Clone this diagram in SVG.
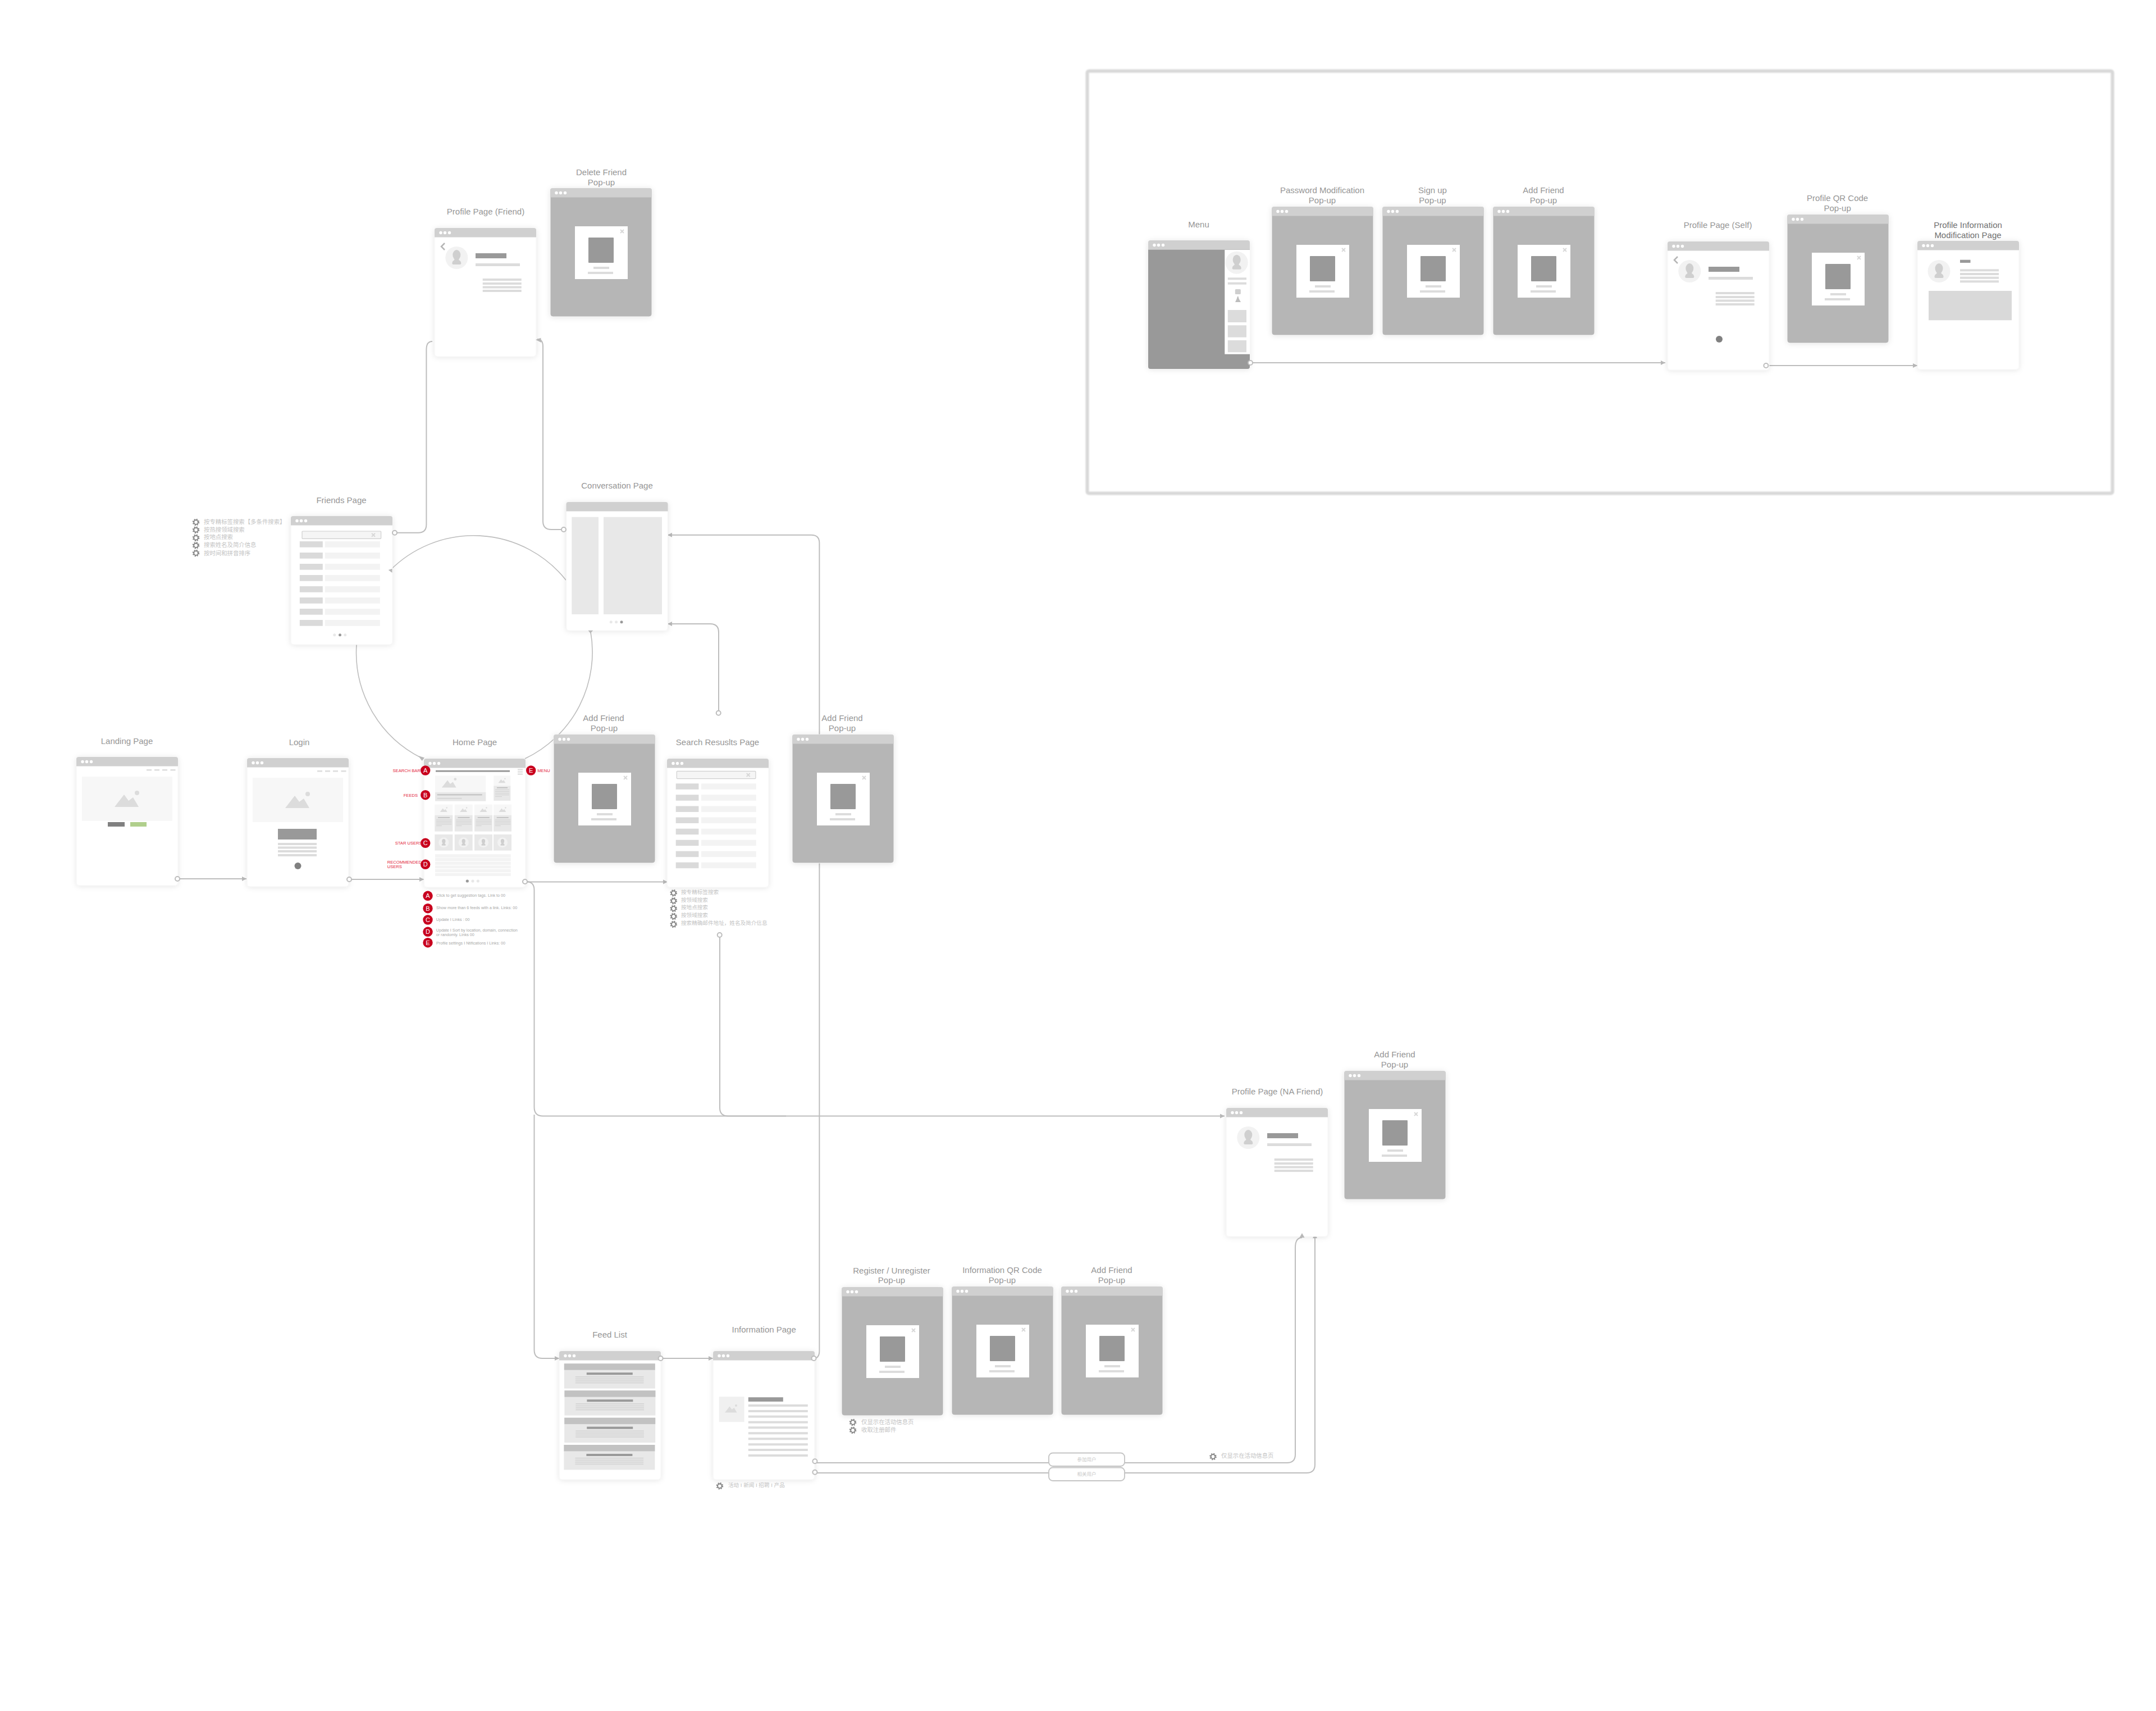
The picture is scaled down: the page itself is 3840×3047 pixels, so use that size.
<svg xmlns="http://www.w3.org/2000/svg" width="3840" height="3047" viewBox="0 0 3840 3047">
<style>
text{font-family:"Liberation Sans","Noto Sans CJK SC",sans-serif}
.t{font-size:15px;fill:#969696;text-anchor:middle}
.td{font-size:15px;fill:#707070;text-anchor:middle}
.n{font-size:10.4px;fill:#c4c4c4}
.en{font-size:7.2px;fill:#a8a8a8}
.rl{font-size:7.6px;fill:#e2233a}
.bl{font-size:11px;fill:#fff;text-anchor:middle}
.pl{font-size:8.5px;fill:#c8c8c8;text-anchor:middle}
.con{fill:none;stroke:#bdbdbd;stroke-width:2}
.arc{fill:none;stroke:#bdbdbd;stroke-width:1.6}
.tip{fill:#b8b8b8}
.term{fill:#fff;stroke:#bdbdbd;stroke-width:2}
.b{fill:#c8001e}
.l{fill:#dcdcdc}
.m{fill:#999}
.s{fill:#f3f3f3}
.e{fill:#e8e8e8}
.dk{fill:#808080}
.x{fill:none;stroke:#d8d8d8;stroke-width:2}
</style>
<defs>
<filter id="sh" x="-15%" y="-15%" width="130%" height="130%"><feDropShadow dx="0" dy="1" stdDeviation="5" flood-color="#000" flood-opacity=".1"/></filter>
<filter id="soft" x="-2%" y="-2%" width="104%" height="104%"><feGaussianBlur stdDeviation="1.200"/></filter>
<marker id="ah" markerUnits="userSpaceOnUse" markerWidth="10" markerHeight="10" refX="8" refY="4.5" orient="auto"><path d="M0 .5L8 4.5L0 8.5Z" fill="#b8b8b8"/></marker>
<g id="dots"><circle cx="11" cy="8.5" r="2.7" fill="#fff"/><circle cx="18.5" cy="8.5" r="2.7" fill="#fff"/><circle cx="26.5" cy="8.5" r="2.7" fill="#fff"/></g>
<path id="hd" d="M0 16.500V4Q0 0 4 0H177Q181 0 181 4V16.500Z" fill="#d0d0d0"/>
<g id="win"><rect width="181" height="229" rx="5" fill="#fff" stroke="#f4f4f4" filter="url(#sh)"/><use href="#hd"/><use href="#dots"/></g>
<g id="blank"><rect width="181" height="229" rx="5" fill="#fff" stroke="#f4f4f4" filter="url(#sh)"/><use href="#hd"/></g>
<g id="pop"><rect width="181" height="229" rx="5" fill="#b6b6b6" stroke="#f4f4f4" filter="url(#sh)"/><use href="#hd"/><use href="#dots"/><rect x="44" y="68" width="94" height="94" fill="#fff"/><rect x="68" y="88" width="45" height="45" rx="1" fill="#999"/><rect x="77" y="140" width="28" height="4" class="l"/><rect x="67" y="149" width="45" height="4" class="l"/><path class="x" transform="translate(128 77)" d="M-3-3L3 3M3-3L-3 3"/></g>
<g id="mtn"><path d="M-22 11L-5-11L3 0L11-6L21 11Z" fill="#dcdcdc"/><circle cx="18" cy="-14" r="4" fill="#dcdcdc"/></g>
<g id="avt"><circle r="20" fill="#f2f2f2"/><ellipse cy="-5" rx="7" ry="9" fill="#cfcfcf"/><path d="M-4 0V4Q-8 6-8 10Q-8 12-5 12H5Q8 12 8 10Q8 6 4 4V0Z" fill="#cfcfcf"/></g>
<g id="prof"><use href="#avt" x="39.300" y="53"/><rect x="73" y="45" width="55" height="9" class="m"/><rect x="73" y="63" width="79" height="5" class="l"/><rect x="85.700" y="90" width="69" height="4" class="l"/><rect x="85.700" y="97" width="69" height="4" class="l"/><rect x="85.700" y="103.500" width="69" height="4" class="l"/><rect x="85.700" y="110" width="69" height="4" class="l"/></g>
<path id="back" d="M18 27L12 33L18 39" fill="none" stroke="#b5b5b5" stroke-width="2.500"/>
<g id="nav"><rect x="125" y="22" width="9" height="2.500" class="l"/><rect x="139" y="22" width="9" height="2.500" class="l"/><rect x="153" y="22" width="9" height="2.500" class="l"/><rect x="167.500" y="22" width="9" height="2.500" class="l"/><rect x="10" y="35" width="161" height="79" fill="#f7f7f7"/><use href="#mtn" x="90" y="78"/></g>
<g id="gear"><circle r="5.200" fill="none" stroke="#858585" stroke-width="2.200" stroke-dasharray="2.100 2"/><circle r="3.800" fill="#fff" stroke="#858585" stroke-width="1.800"/></g>
<g id="rf"><rect width="41" height="10.700" fill="#dadada"/><rect x="45" width="98" height="10.700" class="s"/></g>
<g id="rs"><rect width="40.700" height="10.500" fill="#dadada"/><rect x="45.300" width="97.700" height="10.500" class="s"/></g>
<g id="hc"><rect width="32" height="19" fill="#f7f7f7"/><rect y="19" width="32" height="29" class="e"/><use href="#mtn" transform="translate(16 10) scale(.3)"/><rect x="5.700" y="22.500" width="21" height="1.600" fill="#bbb"/><rect x="2.700" y="26.700" width="27.500" height="1.100" fill="#d2d2d2"/><rect x="2.700" y="29.300" width="27.500" height="1.100" fill="#d2d2d2"/><rect x="2.700" y="32" width="27.500" height="1.100" fill="#d2d2d2"/><rect x="2.700" y="34.700" width="27.500" height="1.100" fill="#d2d2d2"/><rect x="2.700" y="37.300" width="10" height="1.100" fill="#d2d2d2"/></g>
<g id="star"><rect width="32" height="28.700" class="e"/><use href="#avt" transform="translate(16 14.300) scale(.45)"/></g>
<g id="fc"><rect width="162" height="44.400" class="e"/><rect width="162" height="11.400" fill="#c2c2c2"/><rect x="40" y="16" width="82" height="4" class="m"/><rect x="20" y="22.700" width="121.700" height="2" fill="#d6d6d6"/><rect x="20" y="26.300" width="121.700" height="2" fill="#d6d6d6"/><rect x="20" y="29.800" width="121.700" height="2" fill="#d6d6d6"/><rect x="20" y="33.300" width="121.700" height="2" fill="#d6d6d6"/></g>
</defs>
<rect width="3840" height="3047" fill="#fff"/>

<g id="frame"><rect x="1936.500" y="126.500" width="1826" height="752" rx="3" fill="none" stroke="#d8d8d8" stroke-width="6" filter="url(#soft)"/></g>

<g id="connectors">
<path class="con" marker-end="url(#ah)" d="M316 1565H439"/>
<path class="con" marker-end="url(#ah)" d="M622 1566H755"/>
<path class="con" marker-end="url(#ah)" d="M935 1570.500H1189"/>
<path class="con" marker-end="url(#ah)" d="M935 1570H937Q951.500 1570 951.500 1585V1972Q951.500 1987.500 967 1987.500H2181"/>
<path class="con" marker-end="url(#ah)" d="M951.500 1985V2404Q951.500 2419 966 2419H996"/>
<path class="con" d="M1282 1665V1973Q1282 1987.500 1297 1987.500H1400"/>
<path class="con" marker-end="url(#ah)" d="M1280 1270V1126Q1280 1111 1265 1111H1189"/>
<path class="con" marker-end="url(#ah)" d="M1449.500 2419Q1459.400 2419 1459.400 2405V967Q1459.400 952.700 1445 952.700H1189"/>
<path class="con" d="M703 948.700H745Q759.400 948.700 759.400 934V622Q759.400 608 770 608"/>
<path class="con" d="M1004 943H982Q967 943 967 928V617Q967 604 957 604"/>
<path class="con" marker-end="url(#ah)" d="M2227 646H2966"/>
<path class="con" marker-end="url(#ah)" d="M3145 651H3415"/>
<path class="con" marker-end="url(#ah)" d="M1176.600 2419H1270"/>
<path class="con" d="M1451.400 2605H2292Q2307 2605 2307 2590V2222Q2307 2204 2319 2204"/>
<path class="con" marker-end="url(#ah)" d="M1451.400 2623H2327Q2342 2623 2342 2608V2197"/>
<path class="arc" d="M635 1148A210 210 0 0 0 751 1350"/>
<path class="arc" d="M935 1351A210 210 0 0 0 1051.600 1123"/>
<path class="arc" d="M1008 1033A210 210 0 0 0 694.500 1016"/>
</g>

<g id="landing"><text class="t" x="226" y="1325">Landing Page</text><g transform="translate(136 1348)"><use href="#win"/><use href="#nav"/><rect x="56" y="116" width="30" height="8" class="dk"/><rect x="96" y="116" width="29" height="8" fill="#b0cf8c"/></g></g>

<g id="login"><text class="t" x="533" y="1327">Login</text><g transform="translate(440 1350)"><use href="#win"/><use href="#nav"/><rect x="55" y="126" width="69" height="19" class="m"/><rect x="55" y="151" width="69" height="4" class="l"/><rect x="55" y="157.500" width="69" height="4" class="l"/><rect x="55" y="164" width="69" height="4" class="l"/><rect x="55" y="171" width="69" height="4" class="l"/><circle cx="90.500" cy="192" r="6" class="dk"/></g></g>

<g id="home"><text class="t" x="845.600" y="1327">Home Page</text><use href="#win" x="755" y="1351"/>
<rect x="776" y="1371.700" width="132" height="3" class="m"/>
<rect x="922" y="1369.500" width="9" height="2.200" class="l"/><rect x="922" y="1373.500" width="9" height="2.200" class="l"/><rect x="922" y="1377.500" width="9" height="2.200" class="l"/>
<rect x="775" y="1381.300" width="90.300" height="29.400" fill="#f7f7f7"/><rect x="775" y="1410.700" width="90.300" height="16" class="e"/><use href="#mtn" transform="translate(800 1396) scale(.6)"/><rect x="778.700" y="1414" width="80" height="2.600" fill="#c8c8c8"/><rect x="778.700" y="1420.700" width="43.700" height="2.300" fill="#d8d8d8"/>
<rect x="879.300" y="1381.300" width="30" height="18" fill="#f7f7f7"/><rect x="879.300" y="1399.300" width="30" height="26.700" class="e"/><use href="#mtn" transform="translate(894 1391) scale(.3)"/><rect x="885" y="1402" width="19" height="1.600" fill="#bbb"/><rect x="882" y="1406" width="25" height="1.100" fill="#d2d2d2"/><rect x="882" y="1409" width="25" height="1.100" fill="#d2d2d2"/><rect x="882" y="1412" width="25" height="1.100" fill="#d2d2d2"/><rect x="882" y="1415" width="25" height="1.100" fill="#d2d2d2"/><rect x="882" y="1418" width="12" height="1.100" fill="#d2d2d2"/>
<use href="#hc" x="774.300" y="1432.700"/><use href="#hc" x="809.700" y="1432.700"/><use href="#hc" x="845" y="1432.700"/><use href="#hc" x="879" y="1432.700"/>
<use href="#star" x="774.300" y="1486"/><use href="#star" x="809.700" y="1486"/><use href="#star" x="845" y="1486"/><use href="#star" x="879" y="1486"/>
<rect x="775" y="1521.300" width="134.700" height="6" class="s"/><rect x="775" y="1528" width="134.700" height="5.500" class="s"/><rect x="775" y="1534.700" width="134.700" height="5.300" class="s"/><rect x="775" y="1541.300" width="134.700" height="5.300" class="s"/><rect x="775" y="1548" width="134.700" height="5.300" class="s"/><rect x="775" y="1554.700" width="134.700" height="5.300" class="s"/>
<circle cx="832.300" cy="1569" r="2.600" class="m"/><circle cx="842" cy="1569" r="2.600" class="e"/><circle cx="851.300" cy="1569" r="2.600" class="e"/>
<circle class="b" cx="757.700" cy="1372" r="8.700"/><text class="bl" x="757.700" y="1376">A</text>
<circle class="b" cx="757.700" cy="1415.700" r="8.700"/><text class="bl" x="757.700" y="1419.700">B</text>
<circle class="b" cx="757.700" cy="1501.300" r="8.700"/><text class="bl" x="757.700" y="1505.300">C</text>
<circle class="b" cx="757.700" cy="1539.300" r="8.700"/><text class="bl" x="757.700" y="1543.300">D</text>
<circle class="b" cx="945.700" cy="1372" r="8.700"/><text class="bl" x="945.700" y="1376">E</text>
<text class="rl" x="699.500" y="1375">SEARCH BAR</text><text class="rl" x="718.700" y="1418.500">FEEDS</text><text class="rl" x="703.700" y="1503.700">STAR USERS</text><text class="rl" x="689.700" y="1538">RECOMMENDED</text><text class="rl" x="689.700" y="1545.700">USERS</text><text class="rl" x="957.300" y="1375">MENU</text>
<circle class="b" cx="762" cy="1595.300" r="8.700"/><text class="bl" x="762" y="1599.300">A</text>
<circle class="b" cx="762" cy="1617.700" r="8.700"/><text class="bl" x="762" y="1621.700">B</text>
<circle class="b" cx="762" cy="1638" r="8.700"/><text class="bl" x="762" y="1642">C</text>
<circle class="b" cx="762" cy="1659.300" r="8.700"/><text class="bl" x="762" y="1663.300">D</text>
<circle class="b" cx="762" cy="1678.700" r="8.700"/><text class="bl" x="762" y="1682.700">E</text>
<text class="en" x="777" y="1597">Click to get suggestion tags. Link to 00</text>
<text class="en" x="777" y="1618.700">Show more than 6 feeds with a link. Links: 00</text>
<text class="en" x="776.700" y="1639.500">Update I Links : 00</text>
<text class="en" x="776.700" y="1658.500">Update I Sort by location, domain, connection</text>
<text class="en" x="776.700" y="1667">or randomly. Links 00</text>
<text class="en" x="777" y="1681.700">Profile settings I Ntifications I Links: 00</text>
</g>

<g id="friends"><text class="t" x="608" y="896">Friends Page</text><use href="#win" x="518" y="919"/>
<rect x="538" y="946" width="140.600" height="13.300" rx="1" fill="#f5f5f5" stroke="#cfcfcf" stroke-width="1.200"/><path class="x" transform="translate(665 952.700)" d="M-3-3L3 3M3-3L-3 3"/>
<use href="#rf" x="533.800" y="964"/><use href="#rf" x="533.800" y="984"/><use href="#rf" x="533.800" y="1004"/><use href="#rf" x="533.800" y="1024"/><use href="#rf" x="533.800" y="1044"/><use href="#rf" x="533.800" y="1064"/><use href="#rf" x="533.800" y="1084"/><use href="#rf" x="533.800" y="1104"/>
<circle cx="595.800" cy="1130.700" r="2.500" class="e"/><circle cx="605.500" cy="1130.700" r="2.500" class="m"/><circle cx="614.700" cy="1130.700" r="2.500" class="e"/>
<use href="#gear" x="349" y="930"/><use href="#gear" x="349" y="943.700"/><use href="#gear" x="349" y="957.700"/><use href="#gear" x="349" y="971.300"/><use href="#gear" x="349" y="985"/>
<text class="n" x="363" y="933">按专精标签搜索【多条件搜索】</text><text class="n" x="363" y="946.700">按热搜领域搜索</text><text class="n" x="363" y="960.300">按地点搜索</text><text class="n" x="363" y="974">搜索姓名及简介信息</text><text class="n" x="363" y="988.700">按时间和拼音排序</text>
</g>

<g id="conversation"><text class="t" x="1099" y="870">Conversation Page</text><use href="#blank" x="1008.500" y="894"/>
<rect x="1018.300" y="920.700" width="47.700" height="173.300" class="e"/><rect x="1075" y="920.700" width="104" height="173.300" class="e"/>
<circle cx="1088.300" cy="1107.700" r="2.500" class="e"/><circle cx="1097.600" cy="1107.700" r="2.500" class="e"/><circle cx="1107" cy="1107.700" r="2.500" class="m"/>
</g>

<g id="profile-friend"><text class="t" x="865" y="382">Profile Page (Friend)</text><g transform="translate(774 406)"><use href="#win"/><use href="#prof"/><use href="#back"/></g></g>
<g id="delete-friend"><text class="t" x="1071" y="312">Delete Friend</text><text class="t" x="1071" y="329.500">Pop-up</text><use href="#pop" x="980" y="335"/></g>
<g id="add-friend-1"><text class="t" x="1075" y="1284">Add Friend</text><text class="t" x="1076" y="1302">Pop-up</text><use href="#pop" x="986" y="1308"/></g>

<g id="search-results"><text class="t" x="1278" y="1327">Search Resuslts Page</text><use href="#win" x="1188" y="1351"/>
<rect x="1205.300" y="1373.300" width="140.600" height="13.300" rx="1" fill="#f5f5f5" stroke="#cfcfcf" stroke-width="1.200"/><path class="x" transform="translate(1332.700 1380)" d="M-3-3L3 3M3-3L-3 3"/>
<use href="#rs" x="1203.700" y="1395.300"/><use href="#rs" x="1203.700" y="1415.300"/><use href="#rs" x="1203.700" y="1435.500"/><use href="#rs" x="1203.700" y="1455.500"/><use href="#rs" x="1203.700" y="1475.700"/><use href="#rs" x="1203.700" y="1495.700"/><use href="#rs" x="1203.700" y="1515.700"/><use href="#rs" x="1203.700" y="1535.700"/>
<use href="#gear" x="1199.700" y="1590.300"/><use href="#gear" x="1199.700" y="1604.300"/><use href="#gear" x="1199.700" y="1618"/><use href="#gear" x="1199.700" y="1632"/><use href="#gear" x="1199.700" y="1646"/>
<text class="n" style="font-size:9.600px" x="1213" y="1591.500">按专精标签搜索</text><text class="n" style="font-size:9.600px" x="1213" y="1605.500">按领域搜索</text><text class="n" style="font-size:9.600px" x="1213" y="1619.300">按地点搜索</text><text class="n" style="font-size:9.600px" x="1213" y="1633">按领域搜索</text><text class="n" style="font-size:9.600px" x="1213" y="1647">搜索精确邮件地址，姓名及简介信息</text>
</g>
<g id="add-friend-2"><text class="t" x="1500" y="1284">Add Friend</text><text class="t" x="1500" y="1302">Pop-up</text><use href="#pop" x="1411" y="1308"/></g>

<g id="menu"><text class="t" x="2135" y="405">Menu</text><g transform="translate(2045 428)"><use href="#win"/><path d="M0 16.500H181V225Q181 229 177 229H4Q0 229 0 225Z" class="m"/>
<rect x="136.300" y="17" width="44.700" height="185.700" fill="#fff"/><use href="#avt" transform="translate(157.700 39.700) scale(1)"/><rect x="141.800" y="66.300" width="33.200" height="4" class="l"/><rect x="141.800" y="74.700" width="33.200" height="4" class="l"/><rect x="154.800" y="87" width="10" height="9" rx="1.500" fill="#cfcfcf"/><path d="M158.800 100Q159 102 155 110H165Q160 102 160.800 100Z" fill="#bdbdbd"/><rect x="141.800" y="124" width="33.200" height="22" class="l"/><rect x="141.800" y="151.300" width="33.200" height="21.400" class="l"/><rect x="141.800" y="178" width="33.200" height="21.300" class="l"/></g></g>
<g id="password-popup"><text class="t" x="2355" y="344">Password Modification</text><text class="t" x="2355" y="362">Pop-up</text><use href="#pop" x="2265" y="368"/></g>
<g id="signup-popup"><text class="t" x="2551.500" y="344">Sign up</text><text class="t" x="2551.500" y="362">Pop-up</text><use href="#pop" x="2462" y="368"/></g>
<g id="addfriend-popup-menu"><text class="t" x="2749" y="344">Add Friend</text><text class="t" x="2749" y="362">Pop-up</text><use href="#pop" x="2659" y="368"/></g>
<g id="profile-self"><text class="t" x="3059.600" y="406">Profile Page (Self)</text><g transform="translate(2970 430)"><use href="#win"/><use href="#prof"/><use href="#back"/><circle cx="92" cy="174" r="6" class="dk"/></g></g>
<g id="profile-qr"><text class="t" x="3272.600" y="358">Profile QR Code</text><text class="t" x="3272.600" y="376">Pop-up</text><use href="#pop" x="3183" y="382"/></g>
<g id="profile-mod"><text class="td" x="3505" y="406">Profile Information</text><text class="td" x="3505" y="424">Modification Page</text><g transform="translate(3415 429)"><use href="#win"/><use href="#avt" x="38.500" y="54"/><rect x="76" y="33.700" width="18.500" height="5.300" class="m"/><rect x="76" y="50.300" width="69" height="4" class="l"/><rect x="76" y="57" width="69" height="4" class="l"/><rect x="76" y="63.700" width="69" height="4" class="l"/><rect x="76" y="70.300" width="69" height="4" class="l"/><rect x="20" y="89" width="148" height="52.300" fill="#d9d9d9"/></g></g>

<g id="profile-na"><text class="t" x="2275" y="1949">Profile Page (NA Friend)</text><g transform="translate(2184 1973)"><use href="#win"/><use href="#prof"/></g></g>
<g id="add-friend-na"><text class="t" x="2484" y="1883">Add Friend</text><text class="t" x="2484" y="1901">Pop-up</text><use href="#pop" x="2394" y="1907"/></g>

<g id="feed-list"><text class="t" x="1086" y="2382">Feed List</text><use href="#win" x="996" y="2406"/><use href="#fc" x="1004.800" y="2428.300"/><use href="#fc" x="1005.400" y="2476.300"/><use href="#fc" x="1005.200" y="2524.700"/><use href="#fc" x="1004.400" y="2573"/></g>

<g id="information"><text class="t" x="1360.700" y="2373">Information Page</text><use href="#win" x="1270" y="2406"/>
<rect x="1280.700" y="2487.300" width="44.800" height="45" fill="#f0f0f0"/><use href="#mtn" transform="translate(1302 2510) scale(.5)"/><rect x="1332.800" y="2488.300" width="62" height="7.700" class="m"/>
<rect x="1332.800" y="2501" width="106" height="4" class="l"/><rect x="1332.800" y="2511" width="106" height="4" class="l"/><rect x="1332.800" y="2520.700" width="106" height="4" class="l"/><rect x="1332.800" y="2530.700" width="106" height="4" class="l"/><rect x="1332.800" y="2540.300" width="106" height="4" class="l"/><rect x="1332.800" y="2550.300" width="106" height="4" class="l"/><rect x="1332.800" y="2560.300" width="106" height="4" class="l"/><rect x="1332.800" y="2570.300" width="106" height="4" class="l"/><rect x="1332.800" y="2580" width="106" height="4" class="l"/><rect x="1332.800" y="2590" width="106" height="4" class="l"/>
<use href="#gear" x="1281.900" y="2646.300"/><text class="n" style="font-size:9.600px" x="1297" y="2648">活动 I 新闻 I 招聘 I 产品</text>
</g>

<g id="register-popup"><text class="t" x="1588" y="2268">Register / Unregister</text><text class="t" x="1588" y="2285">Pop-up</text><use href="#pop" x="1499" y="2292"/>
<use href="#gear" x="1519" y="2533"/><use href="#gear" x="1519" y="2547"/><text class="n" x="1534" y="2535.500">仅显示在活动信息页</text><text class="n" x="1534" y="2549.500">收取注册邮件</text></g>
<g id="info-qr-popup"><text class="t" x="1785" y="2267">Information QR Code</text><text class="t" x="1785" y="2285">Pop-up</text><use href="#pop" x="1695" y="2291"/></g>
<g id="add-friend-info"><text class="t" x="1980" y="2267">Add Friend</text><text class="t" x="1980" y="2285">Pop-up</text><use href="#pop" x="1890" y="2291"/></g>

<g id="btn-join"><rect x="1868" y="2587.500" width="135" height="23.500" rx="7" fill="#fff" stroke="#c4c4c4" stroke-width="1.800"/><text class="pl" x="1935.500" y="2601.500">参加用户</text></g>
<g id="btn-related"><rect x="1868" y="2613.500" width="135" height="23.500" rx="7" fill="#fff" stroke="#c4c4c4" stroke-width="1.800"/><text class="pl" x="1935.500" y="2627.500">相关用户</text></g>
<g id="note-activity"><use href="#gear" x="2160.500" y="2594"/><text class="n" x="2175" y="2596">仅显示在活动信息页</text></g>

<g id="connector-ends">
<circle class="term" cx="316" cy="1565" r="4"/><circle class="term" cx="622" cy="1566" r="4"/><circle class="term" cx="935" cy="1570" r="4"/>
<circle class="term" cx="1281.700" cy="1665" r="4"/><circle class="term" cx="1279.700" cy="1269.700" r="4"/>
<circle class="term" cx="703" cy="948.700" r="4"/><circle class="term" cx="1004" cy="943" r="4"/>
<circle class="term" cx="2227" cy="646" r="4"/><circle class="term" cx="3145.400" cy="651" r="4"/>
<circle class="term" cx="1176.600" cy="2419" r="4"/><circle class="term" cx="1449.500" cy="2419" r="4"/>
<circle class="term" cx="1451.400" cy="2602.300" r="4"/><circle class="term" cx="1451.400" cy="2621.700" r="4"/>
<path class="tip" d="M691.700 1015L698.500 1012.700L698.500 1020Z"/><path class="tip" d="M1047.600 1122.700H1056.200L1051.600 1127.700Z"/><path class="tip" d="M745 1346L756 1349.300L751.700 1355Z"/><path class="tip" d="M954 605L963.300 601.700L964 610Z"/><path class="tip" d="M2319 2196L2314.500 2204H2323.500Z"/>
</g>
</svg>
